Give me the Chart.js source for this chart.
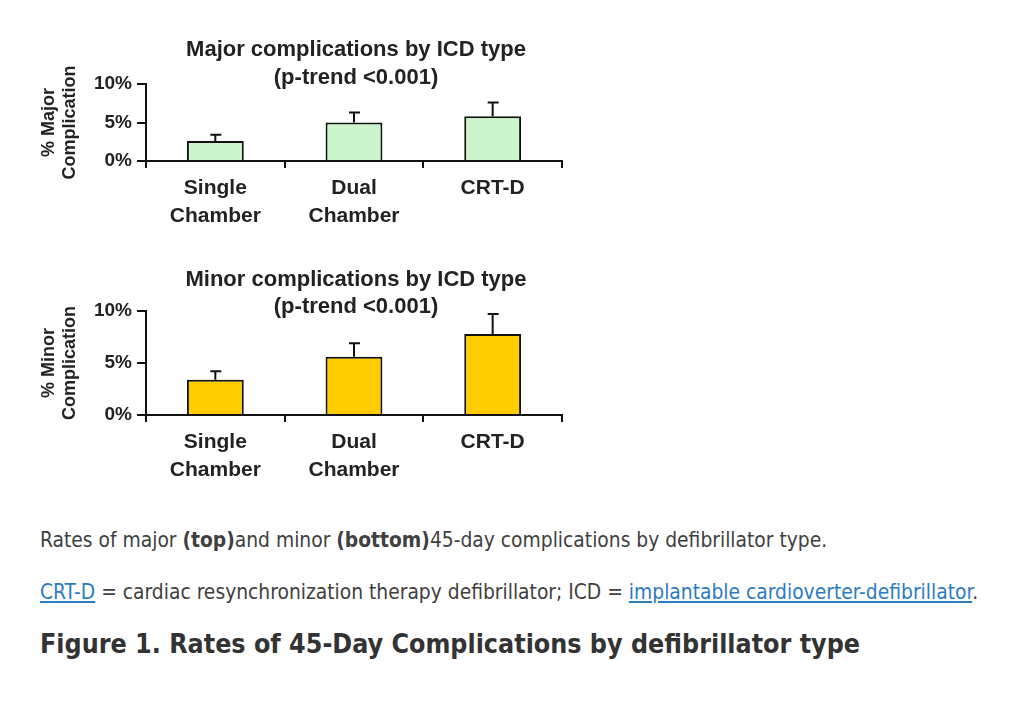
<!DOCTYPE html>
<html>
<head>
<meta charset="utf-8">
<script src="https://cdn.jsdelivr.net/npm/chart.js@4"></script>
<style>
  body { margin: 0; background: #fff; width: 1024px; height: 705px; position: relative; overflow: hidden; }
  .panel { position: absolute; left: 30px; width: 560px; }
  #top { top: 30px; height: 215px; }
  #bottom { top: 255px; height: 240px; }
  .txt { position: absolute; left: 40px; font-family: "DejaVu Sans Condensed", "DejaVu Sans", sans-serif; font-stretch: condensed; color: #404040; white-space: nowrap; }
  .cap { font-size: 20.8px; line-height: 24px; }
  a { color: #2b7bbf; }
  h1 { margin: 0; font-size: 26.6px; line-height: 30px; font-weight: bold; color: #333; }
</style>
</head>
<body>
<div class="panel" id="top"><canvas id="graficoMaior"></canvas></div>
<div class="panel" id="bottom"><canvas id="graficoMenor"></canvas></div>

<div class="txt cap" style="top:528px">Rates of major <b>(top)</b>and minor <b>(bottom)</b>45-day complications by defibrillator type.</div>
<div class="txt cap" style="top:580px"><a href="#">CRT-D</a> = cardiac resynchronization therapy defibrillator; ICD = <a href="#">implantable cardioverter-defibrillator</a>.</div>
<div class="txt" style="top:629px"><h1>Figure 1. Rates of 45-Day Complications by defibrillator type</h1></div>

<script>
// DADOS
const categorias = [['Single', 'Chamber'], ['Dual', 'Chamber'], 'CRT-D']
const taxasMaiores = [2.6, 5.0, 5.8]
const errosMaiores = [0.8, 1.3, 1.8]
const taxasMenores = [3.4, 5.6, 7.8]
const errosMenores = [0.8, 1.3, 1.9]
const ticksY = [0, 5, 10]

const fonte = '"Liberation Sans", Arial, sans-serif'
Chart.defaults.font.family = fonte
Chart.defaults.color = '#222'

// titulo centrado na area do grafico
const tituloPainel = {
    id: 'tituloPainel',
    afterDraw(chart, args, opts) {
        const ctx = chart.ctx
        const area = chart.chartArea
        const cx = (area.left + area.right) / 2 + 2
        ctx.save()
        ctx.font = 'bold 22px ' + fonte
        ctx.fillStyle = '#222'
        ctx.textAlign = 'center'
        ctx.textBaseline = 'middle'
        opts.linhas.forEach((l, i) => ctx.fillText(l, cx, area.top + opts.offsets[i]))
        ctx.restore()
    }
}

// barras de erro (so para cima)
const barrasErro = {
    id: 'barrasErro',
    afterDatasetsDraw(chart, args, opts) {
        const ctx = chart.ctx
        const meta = chart.getDatasetMeta(0)
        const valores = chart.data.datasets[0].data
        const escala = chart.scales.y
        ctx.save()
        ctx.strokeStyle = '#111'
        ctx.lineWidth = 2
        meta.data.forEach((bar, i) => {
            const yTopo = escala.getPixelForValue(valores[i] + opts.erros[i])
            ctx.beginPath()
            ctx.moveTo(bar.x, bar.y)
            ctx.lineTo(bar.x, yTopo)
            ctx.moveTo(bar.x - 5, yTopo)
            ctx.lineTo(bar.x + 6, yTopo)
            ctx.stroke()
        })
        ctx.restore()
    }
}

function criarConfig(valores, erros, cor, tituloEixo, linhasTitulo, offsets, alturaX) {
    return {
        type: 'bar',
        data: {
            labels: categorias,
            datasets: [{
                data: valores,
                backgroundColor: cor,
                borderColor: '#111',
                borderWidth: 2,
                borderSkipped: 'bottom',
                categoryPercentage: 1,
                barPercentage: 0.41
            }]
        },
        options: {
            responsive: true,
            maintainAspectRatio: false,
            animation: false,
            layout: { padding: { top: offsets.pad, right: 28, left: 0, bottom: 0 } },
            plugins: {
                legend: { display: false },
                tooltip: { enabled: false },
                tituloPainel: { linhas: linhasTitulo, offsets: offsets.linhas },
                barrasErro: { erros: erros }
            },
            scales: {
                x: {
                    grid: { offset: true, drawOnChartArea: false, color: '#111', lineWidth: 2, tickLength: 7 },
                    border: { color: '#111', width: 2 },
                    ticks: { font: { size: 21, weight: 'bold', lineHeight: 1.3 }, padding: 7, maxRotation: 0 },
                    afterFit: s => { s.height = alturaX }
                },
                y: {
                    min: 0,
                    max: 10,
                    afterBuildTicks: s => { s.ticks = ticksY.map(v => ({ value: v })) },
                    grid: { drawOnChartArea: false, color: '#111', lineWidth: 2, tickLength: 9 },
                    border: { color: '#111', width: 2 },
                    ticks: { font: { size: 19, weight: 'bold' }, padding: 5, callback: v => v + '%' },
                    title: {
                        display: true,
                        text: tituloEixo,
                        font: { size: 18, weight: 'bold', lineHeight: 1.15 },
                        padding: { top: 9, bottom: 0 }
                    },
                    afterFit: s => { s.width = 116 }
                }
            }
        },
        plugins: [tituloPainel, barrasErro]
    }
}

const graficoMaior = new Chart(
    document.getElementById('graficoMaior'),
    criarConfig(taxasMaiores, errosMaiores, '#ccf5cc', ['% Major', 'Complication'],
        ['Major complications by ICD type', '(p-trend <0.001)'], { pad: 54, linhas: [-34, -6] }, 84)
)

const graficoMenor = new Chart(
    document.getElementById('graficoMenor'),
    criarConfig(taxasMenores, errosMenores, '#ffcc00', ['% Minor', 'Complication'],
        ['Minor complications by ICD type', '(p-trend <0.001)'], { pad: 56, linhas: [-31, -4] }, 80)
)
</script>
</body>
</html>
